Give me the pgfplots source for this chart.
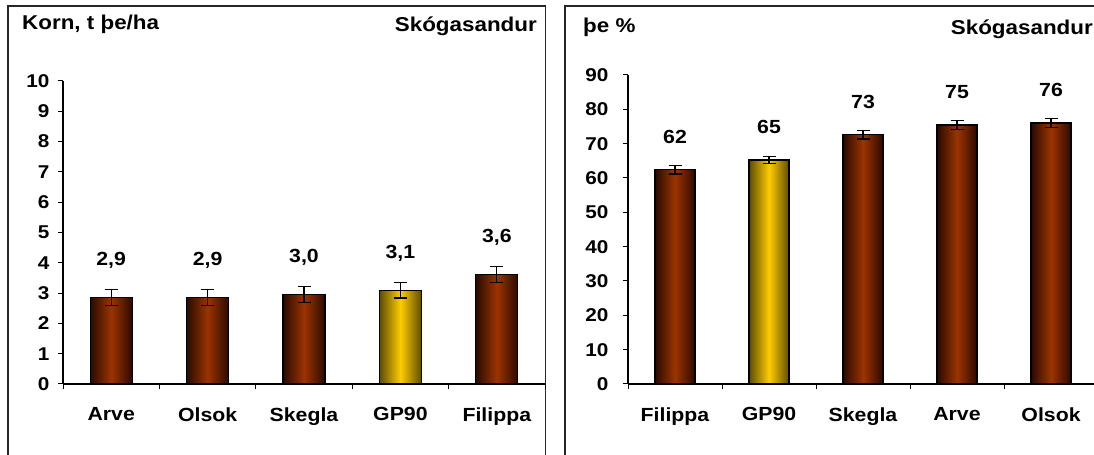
\documentclass[border=0pt]{standalone}
\usepackage{fontspec}
\setmainfont{Liberation Sans}[FakeStretch=1.12]
\usepackage{pgfplots}
\pgfplotsset{compat=1.18}
\usepackage{pgfplotstable}

\definecolor{brownE}{HTML}{2A0A00}
\definecolor{brownM}{HTML}{9C3300}
\definecolor{yelE}{HTML}{5E4C00}
\definecolor{yelM}{HTML}{FFCC00}

% Korn, t þe/ha  (Arve, Olsok, Skegla, GP90, Filippa)
\pgfplotstableread{
x y err lab
0 2.85 0.26 2,9
1 2.85 0.26 2,9
2 2.96 0.26 3,0
3 3.09 0.25 3,1
4 3.61 0.26 3,6
}\kornall

% þe %  (Filippa, GP90, Skegla, Arve, Olsok)
\pgfplotstableread{
x y err lab
0 62.4 1.2 62
1 65.2 1.0 65
2 72.6 1.25 73
3 75.4 1.25 75
4 76.0 1.3 76
}\thall

\pgfplotsset{
  barpanel/.style={
    scale only axis,
    anchor=south west,
    axis x line*=bottom, axis y line*=left,
    axis line style={line width=1.2bp, black},
    tick align=outside,
    major tick length=5bp,
    tick style={line width=1bp, black},
    xmin=-0.5, xmax=4.5,
    xtick={-0.5,0.5,1.5,2.5,3.5,4.5},
    xticklabels={},
    extra x ticks={0,1,2,3,4},
    extra x tick style={major tick length=0pt,
      xticklabel style={font=\bfseries\fontsize{19bp}{22bp}\selectfont, yshift=-20bp}},
    yticklabel style={font=\bfseries\fontsize{18.5bp}{22bp}\selectfont},
    /pgf/number format/assume math mode=true,
    clip=false,
  },
  % one plot per bar, so that every bar gets its own gradient
  brownbar/.style={ybar, bar shift=0pt, draw=black, line width=1.3bp,
    left color=brownE, right color=brownE, middle color=brownM},
  yellowbar/.style={ybar, bar shift=0pt, draw=black, line width=1.3bp,
    left color=yelE, right color=yelE, middle color=yelM},
  errplot/.style={black, only marks, mark=none,
    nodes near coords, point meta=explicit symbolic,
    every node near coord/.append style={anchor=center, black,
      font=\bfseries\fontsize{19bp}{22bp}\selectfont},
    error bars/y dir=both, error bars/y explicit,
    error bars/error bar style={line width=1.3bp, black, solid},
    error bars/error mark options={rotate=90, mark size=6.5bp, line width=1.3bp, black}},
}

\begin{document}
\begin{tikzpicture}[x=1bp, y=1bp]
\clip (0,0) rectangle (1094,455);
\path[use as bounding box] (0,0) rectangle (1094,455);

% panel frames
\draw[line width=1.3bp, black!85] (8,-5) -- (8,449) -- (545.5,449) -- (545.5,-5);
\draw[line width=1.3bp, black!85] (565,-5) -- (565,449) -- (1100,449);

% left panel
\begin{axis}[barpanel,
  at={(63bp,71bp)}, width=482bp, height=303bp,
  ymin=0, ymax=10, ytick={0,1,...,10},
  extra x tick labels={Arve,Olsok,Skegla,GP90,Filippa},
  yticklabel style={xshift=-5bp},
  bar width=42bp,
]
\addplot[brownbar] coordinates {(0,2.85)};
\addplot[brownbar] coordinates {(1,2.85)};
\addplot[brownbar] coordinates {(2,2.96)};
\addplot[yellowbar] coordinates {(3,3.09)};
\addplot[brownbar] coordinates {(4,3.61)};
\addplot[errplot, every node near coord/.append style={yshift=37bp}]
  table[x=x, y=y, y error=err, meta=lab] {\kornall};
\end{axis}

% right panel
\begin{axis}[barpanel,
  at={(628bp,71bp)}, width=470bp, height=309bp,
  ymin=0, ymax=90, ytick={0,10,...,90},
  extra x tick labels={Filippa,GP90,Skegla,Arve,Olsok},
  yticklabel style={xshift=-11bp},
  bar width=40bp,
]
\addplot[brownbar] coordinates {(0,62.4)};
\addplot[yellowbar] coordinates {(1,65.2)};
\addplot[brownbar] coordinates {(2,72.6)};
\addplot[brownbar] coordinates {(3,75.4)};
\addplot[brownbar] coordinates {(4,76.0)};
\addplot[errplot, every node near coord/.append style={yshift=33bp}]
  table[x=x, y=y, y error=err, meta=lab] {\thall};
\end{axis}

% titles
\node[anchor=base west, inner sep=0pt, font=\bfseries\fontsize{20bp}{24bp}\selectfont] at (22,425) {Korn, t þe/ha};
\node[anchor=base east, inner sep=0pt, font=\bfseries\fontsize{20bp}{24bp}\selectfont] at (537,423) {Skógasandur};
\node[anchor=base west, inner sep=0pt, font=\bfseries\fontsize{20bp}{24bp}\selectfont] at (583,422) {þe \%};
\node[anchor=base east, inner sep=0pt, font=\bfseries\fontsize{20bp}{24bp}\selectfont] at (1093,420) {Skógasandur};
\end{tikzpicture}
\end{document}
